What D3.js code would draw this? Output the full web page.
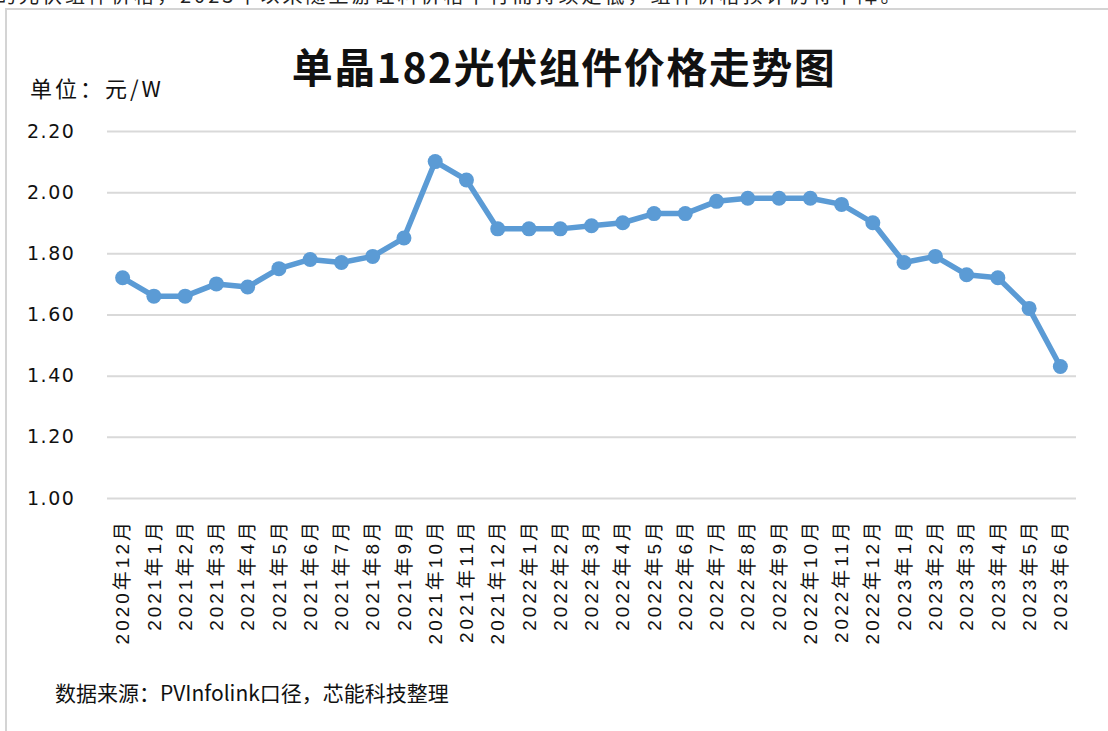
<!DOCTYPE html>
<html>
<head>
<meta charset="utf-8">
<script src="https://cdn.jsdelivr.net/npm/d3@7"></script>
<style>
  html, body { margin: 0; padding: 0; background: #fff; }
  svg { display: block; font-family: "Noto Sans CJK SC", "Noto Sans", sans-serif; }
</style>
</head>
<body>
<svg id="chart" width="1108" height="731"></svg>
<script>
// monthly price of mono 182 PV modules, yuan/W
const months = [
    '2020年12月', '2021年1月', '2021年2月', '2021年3月', '2021年4月', '2021年5月',
    '2021年6月', '2021年7月', '2021年8月', '2021年9月', '2021年10月', '2021年11月',
    '2021年12月', '2022年1月', '2022年2月', '2022年3月', '2022年4月', '2022年5月',
    '2022年6月', '2022年7月', '2022年8月', '2022年9月', '2022年10月', '2022年11月',
    '2022年12月', '2023年1月', '2023年2月', '2023年3月', '2023年4月', '2023年5月',
    '2023年6月'
];
const prices = [
    1.72, 1.66, 1.66, 1.70, 1.69, 1.75,
    1.78, 1.77, 1.79, 1.85, 2.10, 2.04,
    1.88, 1.88, 1.88, 1.89, 1.90, 1.93,
    1.93, 1.97, 1.98, 1.98, 1.98, 1.96,
    1.90, 1.77, 1.79, 1.73, 1.72, 1.62,
    1.43
];
const yTicks = [1.0, 1.2, 1.4, 1.6, 1.8, 2.0, 2.2];

const title = '单晶182光伏组件价格走势图',
    unitLabel = '单位：元/W',
    sourceNote = '数据来源：PVInfolink口径，芯能科技整理',
    lineColor = '#5b9bd5',
    gridColor = '#d9d9d9';

const svg = d3.select('#chart');

// cut-off line of body text above the chart frame
svg.append('text')
    .attr('x', -4)
    .attr('y', 3)
    .attr('fill', '#222')
    .style('font-size', '20px')
    .style('letter-spacing', '3px')
    .text('的光伏组件价格，2023年以来随上游硅料价格下行而持续走低，组件价格预计仍将下降。');

// chart frame (top and left edges)
svg.append('path')
    .attr('d', 'M1108,9 H6 V731')
    .attr('fill', 'none')
    .attr('stroke', '#d4d4d4')
    .attr('stroke-width', 2);

const x = d3.scaleBand()
    .domain(months)
    .range([107, 1076])
    .padding(0);

const y = d3.scaleLinear()
    .domain([1.0, 2.2])
    .range([498, 131]);

// gridlines
const yAxis = d3.axisLeft(y)
    .tickValues(yTicks)
    .tickSize(-(1076 - 107))
    .tickPadding(32)
    .tickFormat(d3.format('.2f'));

const yG = svg.append('g')
    .attr('transform', 'translate(107,0)')
    .call(yAxis);

yG.select('.domain').remove();
yG.selectAll('.tick line')
    .attr('stroke', gridColor)
    .attr('stroke-width', 2);
yG.selectAll('.tick text')
    .attr('fill', '#111')
    .attr('x', -80)
    .attr('text-anchor', 'start')
    .style('font-family', '"DejaVu Sans", sans-serif')
    .style('font-size', '19px')
    .style('letter-spacing', '1.5px');

// rotated month labels
const xAxis = d3.axisBottom(x)
    .tickSize(0)
    .tickPadding(0);

const xG = svg.append('g')
    .attr('transform', 'translate(0,498)')
    .call(xAxis);

xG.select('.domain').remove();
xG.selectAll('.tick text')
    .attr('fill', '#111')
    .attr('transform', 'rotate(-90)')
    .attr('x', -21)
    .attr('y', 0)
    .attr('dy', '0.35em')
    .attr('text-anchor', 'end')
    .style('font-family', '"Liberation Sans", "Noto Sans CJK SC", sans-serif')
    .style('font-size', '19px')
    .style('letter-spacing', '3px');

// line and markers
const line = d3.line()
    .x((d, i) => x(months[i]) + x.bandwidth() / 2)
    .y(d => y(d));

svg.append('path')
    .datum(prices)
    .attr('d', line)
    .attr('fill', 'none')
    .attr('stroke', lineColor)
    .attr('stroke-width', 5.5)
    .attr('stroke-linejoin', 'round');

svg.append('g')
    .selectAll('circle')
    .data(prices)
    .join('circle')
    .attr('cx', (d, i) => x(months[i]) + x.bandwidth() / 2)
    .attr('cy', d => y(d))
    .attr('r', 7.5)
    .attr('fill', lineColor);

// title, unit and source
svg.append('text')
    .attr('x', 564)
    .attr('y', 83)
    .attr('text-anchor', 'middle')
    .attr('fill', '#111')
    .style('font-size', '41px')
    .style('font-weight', 'bold')
    .style('letter-spacing', '1.5px')
    .text(title);

svg.append('text')
    .attr('x', 30)
    .attr('y', 97)
    .attr('fill', '#111')
    .style('font-size', '22px')
    .style('letter-spacing', '3px')
    .text(unitLabel);

svg.append('text')
    .attr('x', 55)
    .attr('y', 701)
    .attr('fill', '#111')
    .style('font-size', '21px')
    .text(sourceNote);
</script>
</body>
</html>
